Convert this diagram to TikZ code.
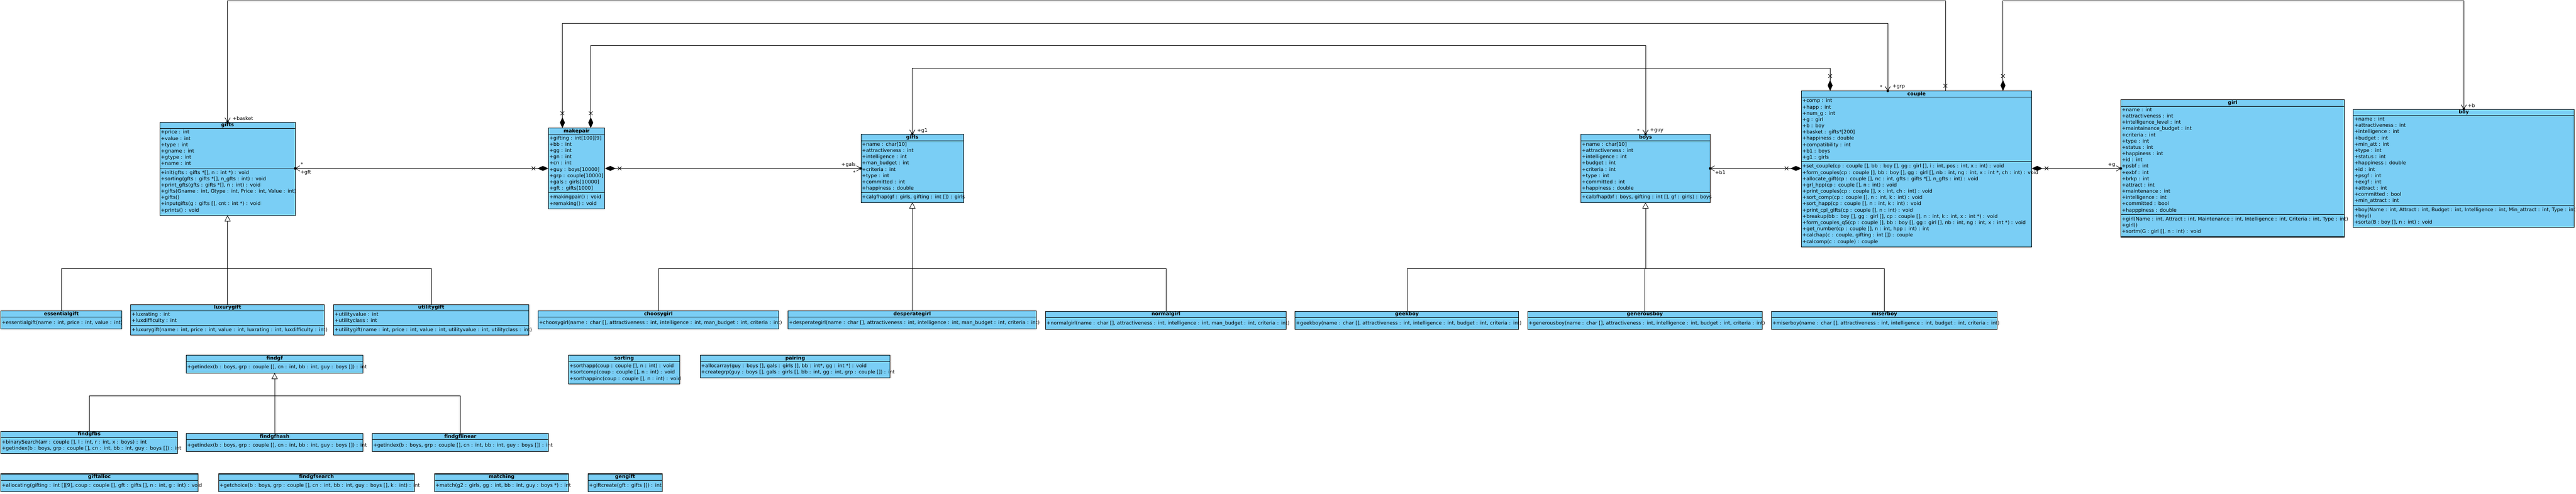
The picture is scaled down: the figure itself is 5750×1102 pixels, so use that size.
\documentclass[tikz,border=0pt]{standalone}
\usepackage{fontspec}
\setmainfont{DejaVu Sans}
\usetikzlibrary{positioning,fit,calc,arrows.meta,decorations.markings}

\definecolor{clsblue}{RGB}{122,206,245}

\newcommand{\umlclass}[7]{%
  \node[clstitle, minimum width=#4pt, anchor=north west] (#1-t) at (#2,#3) {#5};
  \node[clsattr, text width=#4pt, below=0pt of #1-t] (#1-a) {#6};
  \node[clsmeth, text width=#4pt, below=0pt of #1-a] (#1-m) {#7};
  \node[fit=(#1-t)(#1-m), inner sep=0pt] (#1) {};
}
\newcommand{\umlops}[6]{%
  \node[clstitle, minimum width=#4pt, anchor=north west] (#1-t) at (#2,#3) {#5};
  \node[clsmeth, text width=#4pt, minimum height=26pt, below=0pt of #1-t] (#1-m) {#6};
  \node[fit=(#1-t)(#1-m), inner sep=0pt] (#1) {};
}

\begin{document}
\begin{tikzpicture}[x=1pt, y=-1pt,
  clsbox/.style={draw, line width=1.2pt, fill=clsblue, outer sep=0pt, inner xsep=0pt,
    font=\fontsize{11}{14}\selectfont},
  clstitle/.style={clsbox, font=\fontsize{11}{14}\selectfont\bfseries, inner ysep=0pt,
    text height=9.8pt, text depth=4.2pt},
  clsattr/.style={clsbox, inner ysep=2pt,
    execute at begin node={\rightskip=-40pt plus 1fil\leftskip=2pt\strut},
    execute at end node={\strut}},
  clsmeth/.style={clsattr, inner ysep=4pt},
  assoc/.style={draw, line width=1pt},
  navcomp/.style={assoc, arrows={Straight Barb[length=9pt,width=12pt]-Diamond[length=24pt,width=11pt]},
    postaction={decorate, decoration={markings,
      mark=at position 0pt with {\fill (0,0) circle (3pt);},
      mark=at position -33pt with {\draw[-] (-4pt,-4pt) -- (4pt,4pt) (-4pt,4pt) -- (4pt,-4pt);}}}},
  navplain/.style={assoc, arrows={Straight Barb[length=9pt,width=12pt]-},
    postaction={decorate, decoration={markings,
      mark=at position 0pt with {\fill (0,0) circle (3pt);},
      mark=at position -11pt with {\draw[-] (-4pt,-4pt) -- (4pt,4pt) (-4pt,4pt) -- (4pt,-4pt);}}}},
  inh/.style={draw, line width=0.7pt, arrows={-Triangle[open, fill=white, length=13pt, width=13pt]}},
  lbl/.style={inner sep=0pt, font=\fontsize{11}{14}\selectfont}]

  \fill[white] (0,0) rectangle (5750,1102);
  \useasboundingbox (0,0) rectangle (5750,1102);

  \umlclass{gifts}{357}{273}{302}{gifts}
    {+price : int\\+value : int\\+type : int\\+gname : int\\+gtype : int\\+name : int}
    {+init(gfts : gifts *[], n : int *) : void\\+sorting(gfts : gifts *[], n\_gfts : int) : void\\+print\_gfts(gfts : gifts *[], n : int) : void\\+gifts(Gname : int, Gtype : int, Price : int, Value : int)\\+gifts()\\+inputgifts(g : gifts [], cnt : int *) : void\\+prints() : void}
  \umlclass{makepair}{1224}{286}{126}{makepair}
    {+gifting : int[100][9]\\+bb : int\\+gg : int\\+gn : int\\+cn : int\\+guy : boys[10000]\\+grp : couple[10000]\\+gals : girls[10000]\\+gft : gifts[1000]}
    {+makingpair() : void\\+remaking() : void}
  \umlclass{girls}{1922}{300}{229}{girls}
    {+name : char[10]\\+attractiveness : int\\+intelligence : int\\+man\_budget : int\\+criteria : int\\+type : int\\+committed : int\\+happiness : double}
    {+calgfhap(gf : girls, gifting : int []) : girls}
  \umlclass{boys}{3529}{300}{288}{boys}
    {+name : char[10]\\+attractiveness : int\\+intelligence : int\\+budget : int\\+criteria : int\\+type : int\\+committed : int\\+happiness : double}
    {+calbfhap(bf : boys, gifting : int [], gf : girls) : boys}
  \umlclass{couple}{4021}{203}{514}{couple}
    {+comp : int\\+happ : int\\+num\_g : int\\+g : girl\\+b : boy\\+basket : gifts*[200]\\+happiness : double\\+compatibility : int\\+b1 : boys\\+g1 : girls}
    {+set\_couple(cp : couple [], bb : boy [], gg : girl [], i : int, pos : int, x : int) : void\\+form\_couples(cp : couple [], bb : boy [], gg : girl [], nb : int, ng : int, x : int *, ch : int) : void\\+allocate\_gift(cp : couple [], nc : int, gfts : gifts *[], n\_gfts : int) : void\\+grl\_hpp(cp : couple [], n : int) : void\\+print\_couples(cp : couple [], x : int, ch : int) : void\\+sort\_comp(cp : couple [], n : int, k : int) : void\\+sort\_happ(cp : couple [], n : int, k : int) : void\\+print\_cpl\_gifts(cp : couple [], n : int) : void\\+breakup(bb : boy [], gg : girl [], cp : couple [], n : int, k : int, x : int *) : void\\+form\_couples\_q5(cp : couple [], bb : boy [], gg : girl [], nb : int, ng : int, x : int *) : void\\+get\_number(cp : couple [], n : int, hpp : int) : int\\+calchap(c : couple, gifting : int []) : couple\\+calcomp(c : couple) : couple}
  \umlclass{girl}{4734}{223}{499}{girl}
    {+name : int\\+attractiveness : int\\+intelligence\_level : int\\+maintainance\_budget : int\\+criteria : int\\+type : int\\+status : int\\+happiness : int\\+id : int\\+psbf : int\\+exbf : int\\+brkp : int\\+attract : int\\+maintenance : int\\+intelligence : int\\+committed : bool\\+happpiness : double}
    {+girl(Name : int, Attract : int, Maintenance : int, Intelligence : int, Criteria : int, Type : int)\\+girl()\\+sortm(G : girl [], n : int) : void}
  \umlclass{boy}{5253}{244}{493}{boy}
    {+name : int\\+attractiveness : int\\+intelligence : int\\+budget : int\\+min\_att : int\\+type : int\\+status : int\\+happiness : double\\+id : int\\+psgf : int\\+exgf : int\\+attract : int\\+committed : bool\\+min\_attract : int}
    {+boy(Name : int, Attract : int, Budget : int, Intelligence : int, Min\_attract : int, Type : int)\\+boy()\\+sorta(B : boy [], n : int) : void}

  \umlops{essentialgift}{2}{694}{270}{essentialgift}{+essentialgift(name : int, price : int, value : int)}
  \umlclass{luxurygift}{292}{680}{432}{luxurygift}
    {+luxrating : int\\+luxdifficulty : int}
    {+luxurygift(name : int, price : int, value : int, luxrating : int, luxdifficulty : int)}
  \umlclass{utilitygift}{745}{680}{435}{utilitygift}
    {+utilityvalue : int\\+utilityclass : int}
    {+utilitygift(name : int, price : int, value : int, utilityvalue : int, utilityclass : int)}
  \umlops{choosygirl}{1201}{694}{537}{choosygirl}{+choosygirl(name : char [], attractiveness : int, intelligence : int, man\_budget : int, criteria : int)}
  \umlops{desperategirl}{1759}{694}{554}{desperategirl}{+desperategirl(name : char [], attractiveness : int, intelligence : int, man\_budget : int, criteria : int)}
  \umlops{normalgirl}{2334}{695}{537}{normalgirl}{+normalgirl(name : char [], attractiveness : int, intelligence : int, man\_budget : int, criteria : int)}
  \umlops{geekboy}{2891}{695}{499}{geekboy}{+geekboy(name : char [], attractiveness : int, intelligence : int, budget : int, criteria : int)}
  \umlops{generousboy}{3410}{695}{523}{generousboy}{+generousboy(name : char [], attractiveness : int, intelligence : int, budget : int, criteria : int)}
  \umlops{miserboy}{3954}{695}{504}{miserboy}{+miserboy(name : char [], attractiveness : int, intelligence : int, budget : int, criteria : int)}

  \umlops{findgf}{416}{793}{394}{findgf}{+getindex(b : boys, grp : couple [], cn : int, bb : int, guy : boys []) : int}
  \umlops{findgfbs}{2}{963}{394}{findgfbs}{+binarySearch(arr : couple [], l : int, r : int, x : boys) : int\\+getindex(b : boys, grp : couple [], cn : int, bb : int, guy : boys []) : int}
  \umlops{findgfhash}{416}{968}{394}{findgfhash}{+getindex(b : boys, grp : couple [], cn : int, bb : int, guy : boys []) : int}
  \umlops{findgflinear}{831}{968}{393}{findgflinear}{+getindex(b : boys, grp : couple [], cn : int, bb : int, guy : boys []) : int}
  \umlops{giftalloc}{2}{1058}{440}{giftalloc}{+allocating(gifting : int [][9], coup : couple [], gft : gifts [], n : int, g : int) : void}
  \umlops{findgfsearch}{488}{1058}{437}{findgfsearch}{+getchoice(b : boys, grp : couple [], cn : int, bb : int, guy : boys [], k : int) : int}
  \umlops{matching}{970}{1058}{299}{matching}{+match(g2 : girls, gg : int, bb : int, guy : boys *) : int}
  \umlops{gengift}{1313}{1058}{165}{gengift}{+giftcreate(gft : gifts []) : int}
  \umlops{sorting}{1269}{793}{248}{sorting}{+sorthapp(coup : couple [], n : int) : void\\+sortcomp(coup : couple [], n : int) : void\\+sorthappinc(coup : couple [], n : int) : void}
  \umlops{pairing}{1563}{793}{424}{pairing}{+allocarray(guy : boys [], gals : girls [], bb : int*, gg : int *) : void\\+creategrp(guy : boys [], gals : girls [], bb : int, gg : int, grp : couple []) : int}

  \coordinate (ytop) at (0,2);
  \coordinate (ygrp) at (0,52);
  \coordinate (yguy) at (0,102);
  \coordinate (yg1) at (0,152);
  \coordinate (ymid) at (0,376);
  \coordinate (ybus) at (0,600);
  \coordinate (yfind) at (0,883);
  \coordinate (cp1) at ($(couple.north west)!.125!(couple.north east)$);
  \coordinate (cp3) at ($(couple.north west)!.375!(couple.north east)$);
  \coordinate (cp5) at ($(couple.north west)!.625!(couple.north east)$);
  \coordinate (cp7) at ($(couple.north west)!.875!(couple.north east)$);
  \coordinate (mp1) at ($(makepair.north west)!.25!(makepair.north east)$);
  \coordinate (mp3) at ($(makepair.north west)!.75!(makepair.north east)$);

  \draw[navplain] (gifts.north) -- (gifts.north |- ytop) -- (cp5 |- ytop) -- (cp5);
  \draw[navcomp] (cp3) -- (cp3 |- ygrp) -- (mp1 |- ygrp) -- (mp1);
  \draw[navcomp] (boys.north) -- (boys.north |- yguy) -- (mp3 |- yguy) -- (mp3);
  \draw[navcomp] (girls.north) -- (girls.north |- yg1) -- (cp1 |- yg1) -- (cp1);
  \draw[navcomp] (boy.north) -- (boy.north |- ytop) -- (cp7 |- ytop) -- (cp7);
  \draw[navcomp] (gifts.east |- ymid) -- (makepair.west |- ymid);
  \draw[navcomp] (girls.west |- ymid) -- (makepair.east |- ymid);
  \draw[navcomp] (boys.east |- ymid) -- (couple.west |- ymid);
  \draw[navcomp] (girl.west |- ymid) -- (couple.east |- ymid);

  \draw[inh] (essentialgift.north) |- (gifts.south |- ybus) -- (gifts.south);
  \draw[inh] (luxurygift.north) |- (gifts.south |- ybus) -- (gifts.south);
  \draw[inh] (utilitygift.north) |- (gifts.south |- ybus) -- (gifts.south);
  \draw[inh] (choosygirl.north) |- (girls.south |- ybus) -- (girls.south);
  \draw[inh] (desperategirl.north) |- (girls.south |- ybus) -- (girls.south);
  \draw[inh] (normalgirl.north) |- (girls.south |- ybus) -- (girls.south);
  \draw[inh] (geekboy.north) |- (boys.south |- ybus) -- (boys.south);
  \draw[inh] (generousboy.north) |- (boys.south |- ybus) -- (boys.south);
  \draw[inh] (miserboy.north) |- (boys.south |- ybus) -- (boys.south);
  \draw[inh] (findgfbs.north) |- (findgf.south |- yfind) -- (findgf.south);
  \draw[inh] (findgfhash.north) |- (findgf.south |- yfind) -- (findgf.south);
  \draw[inh] (findgflinear.north) |- (findgf.south |- yfind) -- (findgf.south);

  \node[lbl, anchor=west] (basketlbl) at (519,264) {+basket};
  \node[lbl] (gftmul) at (674,367) {*};
  \node[lbl, anchor=west] (gftlbl) at (670,385) {+gft};
  \node[lbl, anchor=west] (galslbl) at (1878,368) {+gals};
  \node[lbl] (galsmul) at (1907,385) {*};
  \node[lbl, anchor=west] (g1lbl) at (2047,292) {+g1};
  \node[lbl] (guymul) at (3657,292) {*};
  \node[lbl, anchor=west] (guylbl) at (3683,292) {+guy};
  \node[lbl] (grpmul) at (4199,194) {*};
  \node[lbl, anchor=west] (grplbl) at (4224,194) {+grp};
  \node[lbl, anchor=west] (b1lbl) at (3828,385) {+b1};
  \node[lbl, anchor=west] (glbl) at (4705,368) {+g};
  \node[lbl, anchor=west] (blbl) at (5508,236) {+b};
\end{tikzpicture}
\end{document}
